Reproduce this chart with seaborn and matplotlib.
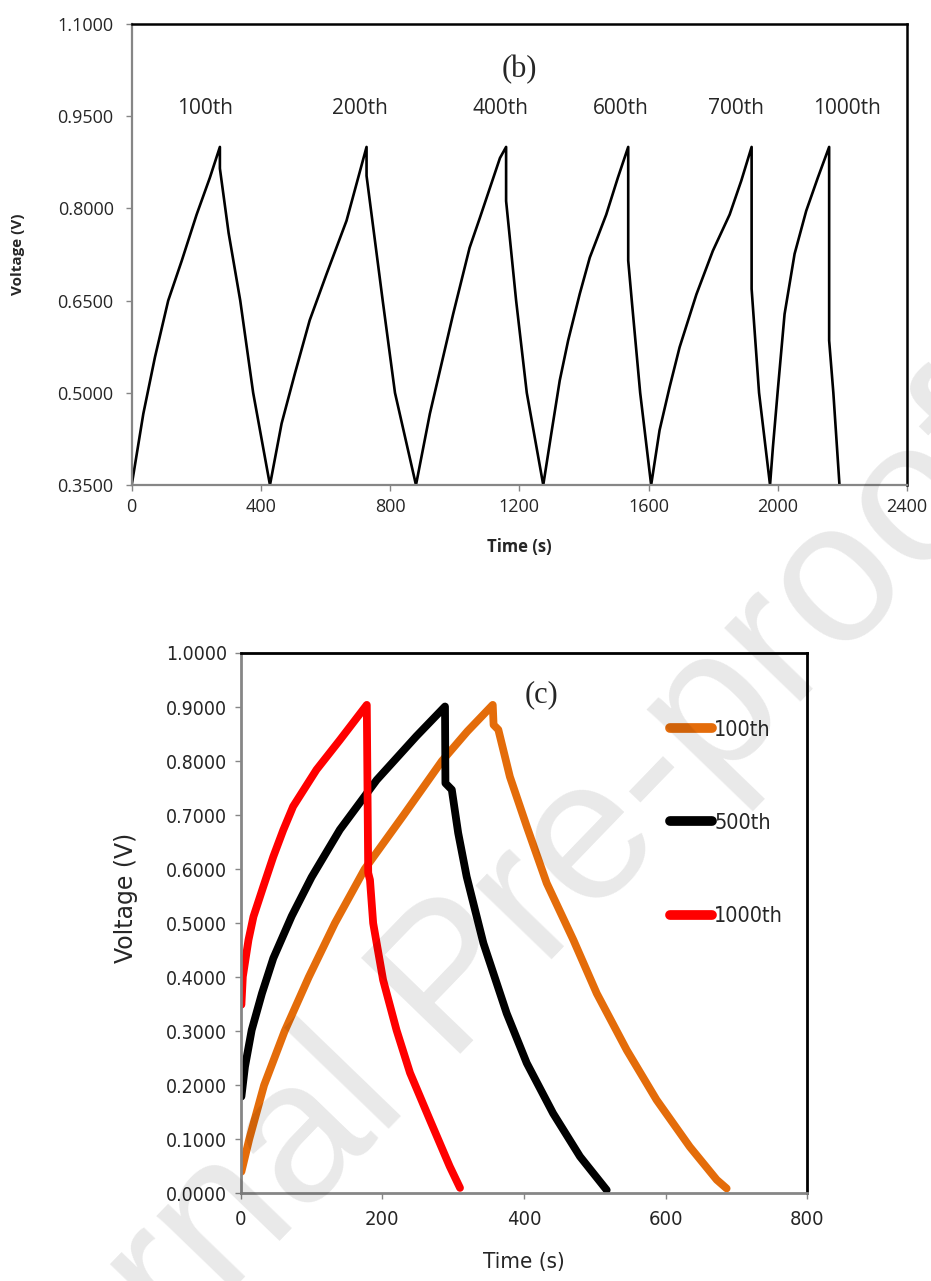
import matplotlib
matplotlib.use("Agg")
import matplotlib.pyplot as plt
from matplotlib.lines import Line2D
from matplotlib.font_manager import FontProperties
import seaborn as sns
import pandas as pd

# ---------------- data: panel (b) ----------------
b_time = [0, 36, 72, 113, 155, 201, 242, 273, 273, 300, 336, 376, 428,
          464, 505, 551, 603, 665, 727, 727, 777, 815, 880,
          923, 995, 1046, 1078, 1140, 1159, 1159, 1190, 1223, 1274,
          1299, 1325, 1351, 1387, 1418, 1469, 1505, 1537, 1537, 1548, 1574, 1608,
          1634, 1665, 1696, 1748, 1799, 1851, 1887, 1919, 1919, 1942, 1976,
          1985, 2000, 2021, 2052, 2088, 2124, 2159, 2159, 2172, 2191]
b_volt = [0.35, 0.466, 0.558, 0.65, 0.715, 0.79, 0.85, 0.90, 0.865, 0.76, 0.65, 0.50, 0.35,
          0.45, 0.531, 0.618, 0.693, 0.78, 0.90, 0.853, 0.65, 0.50, 0.35,
          0.466, 0.628, 0.736, 0.785, 0.882, 0.90, 0.812, 0.65, 0.50, 0.35,
          0.434, 0.52, 0.585, 0.661, 0.72, 0.79, 0.85, 0.90, 0.715, 0.65, 0.50, 0.35,
          0.439, 0.509, 0.574, 0.66, 0.731, 0.79, 0.845, 0.90, 0.669, 0.50, 0.35,
          0.412, 0.504, 0.628, 0.726, 0.796, 0.85, 0.90, 0.585, 0.50, 0.35]
b_cycle_labels = ["100th", "200th", "400th", "600th", "700th", "1000th"]
b_label_time = [227, 705, 1142, 1515, 1871, 2214]
b_xticks = [0, 400, 800, 1200, 1600, 2000, 2400]
b_yticks = [0.35, 0.50, 0.65, 0.80, 0.95, 1.10]

# ---------------- data: panel (c) ----------------
c100_time = [1, 12, 33, 62, 96, 133, 175, 230, 284, 320, 355.8, 357,
             363.7, 380, 403.8, 432, 469.6, 502.6, 545, 587, 634, 672, 686]
c100_volt = [0.04, 0.10, 0.20, 0.30, 0.40, 0.50, 0.60, 0.70, 0.80, 0.855, 0.904, 0.867,
             0.858, 0.771, 0.679, 0.574, 0.469, 0.37, 0.265, 0.173, 0.086, 0.025, 0.009]
c500_time = [1, 6, 15.5, 30, 46, 72, 100, 140, 192, 248, 288.4, 289,
             298, 307, 319, 342.6, 375.5, 403.8, 441, 479, 516.7]
c500_volt = [0.179, 0.234, 0.302, 0.37, 0.435, 0.513, 0.585, 0.673, 0.765, 0.846,
             0.901, 0.759, 0.747, 0.667, 0.586, 0.463, 0.333, 0.241, 0.148, 0.068, 0.006]
c1000_time = [1, 3, 11, 18, 32, 46, 60, 74, 107, 140, 178, 180, 182.5, 187,
              201, 220, 239, 267, 281, 295, 309.6]
c1000_volt = [0.349, 0.401, 0.469, 0.512, 0.568, 0.623, 0.672, 0.716, 0.784, 0.839,
              0.904, 0.593, 0.58, 0.5, 0.395, 0.302, 0.223, 0.136, 0.093, 0.050, 0.01]
c_series = ["100th", "500th", "1000th"]
c_colors = ["#E46C0A", "#000000", "#FF0000"]
c_xticks = [0, 200, 400, 600, 800]
c_yticks = [0.0, 0.1, 0.2, 0.3, 0.4, 0.5, 0.6, 0.7, 0.8, 0.9, 1.0]

sns.set_theme(style="white")
plt.rcParams['font.family'] = ['Open Sans', 'DejaVu Sans']

W, H = 931, 1281
fig = plt.figure(figsize=(W / 100, H / 100), dpi=100)
fig.patch.set_facecolor("white")

GREY = "#868686"

# ---------------- panel (b) ----------------
axb = fig.add_axes([131.7 / W, 1 - 485 / H, (907 - 131.7) / W, (485 - 24) / H])
dfb = pd.DataFrame({"t": b_time, "v": b_volt})
sns.lineplot(data=dfb, x="t", y="v", sort=False, estimator=None,
             color="black", lw=1.9, ax=axb)
axb.set_xlim(0, 2400)
axb.set_ylim(0.35, 1.10)
axb.set_xticks(b_xticks)
axb.set_yticks(b_yticks)
axb.set_xticklabels([str(v) for v in b_xticks], fontsize=13)
axb.set_yticklabels([f"{v:.4f}" for v in b_yticks], fontsize=13)
axb.tick_params(axis="y", direction="out", length=4, width=1, color=GREY,
                pad=9, left=True)
axb.tick_params(axis="x", direction="out", length=4, width=1, color=GREY,
                pad=5, bottom=True)
for s in ["left", "bottom"]:
    axb.spines[s].set_color(GREY)
    axb.spines[s].set_linewidth(1.6)
for s in ["top", "right"]:
    axb.spines[s].set_color("black")
    axb.spines[s].set_linewidth(1.8)
axb.set_xlabel("Time (s)", fontsize=12, fontweight="bold")
axb.set_ylabel("Voltage (V)", fontsize=11, fontweight="bold")
axb.xaxis.set_label_coords(0.5, -0.1345)
axb.xaxis.label.set_va("center")
axb.yaxis.set_label_coords(-0.1467, 0.5)
axb.yaxis.label.set_va("center")
for lab, tx in zip(b_cycle_labels, b_label_time):
    axb.text(tx, 0.962, lab, ha="center", va="center", fontsize=15)
axb.text(1201, 1.026, "(b)", ha="center", va="center", fontsize=22,
         family=["Liberation Serif", "DejaVu Serif"])

# ---------------- panel (c) ----------------
axc = fig.add_axes([240.7 / W, 1 - 1193.3 / H, (807.4 - 240.7) / W, (1193.3 - 653) / H])
dfc = pd.concat([
    pd.DataFrame({"t": c100_time, "v": c100_volt, "cycle": c_series[0]}),
    pd.DataFrame({"t": c500_time, "v": c500_volt, "cycle": c_series[1]}),
    pd.DataFrame({"t": c1000_time, "v": c1000_volt, "cycle": c_series[2]}),
], ignore_index=True)
sns.lineplot(data=dfc, x="t", y="v", hue="cycle", hue_order=c_series,
             palette=dict(zip(c_series, c_colors)), sort=False, estimator=None,
             lw=5.6, solid_capstyle="round", solid_joinstyle="round",
             legend=False, ax=axc)
axc.set_xlim(0, 800)
axc.set_ylim(0, 1.0)
axc.set_xticks(c_xticks)
axc.set_yticks(c_yticks)
narrow = ["DejaVu Sans"]
axc.set_xticklabels([str(v) for v in c_xticks], fontsize=14.5, family=narrow,
                    fontstretch="condensed")
axc.set_yticklabels([f"{v:.4f}" for v in c_yticks], fontsize=14, family=narrow,
                    fontstretch="condensed")
axc.tick_params(axis="y", direction="out", length=4, width=1, color=GREY,
                pad=6, left=True)
axc.tick_params(axis="x", direction="out", length=4, width=1, color=GREY,
                pad=8, bottom=True)
for s in ["left", "bottom"]:
    axc.spines[s].set_color(GREY)
    axc.spines[s].set_linewidth(2.0)
for s in ["top", "right"]:
    axc.spines[s].set_color("black")
    axc.spines[s].set_linewidth(2.0)
axc.set_xlabel("Time (s)", fontsize=16, family=narrow, fontstretch="condensed")
axc.set_ylabel("Voltage (V)", fontsize=17, family=["DejaVu Sans"])
axc.xaxis.set_label_coords(0.5, -0.127)
axc.xaxis.label.set_va("center")
axc.yaxis.set_label_coords(-0.2024, 0.547)
axc.yaxis.label.set_va("center")
axc.text(425, 0.923, "(c)", ha="center", va="center", fontsize=22,
         family=["Liberation Serif", "DejaVu Serif"])

handles = [Line2D([0], [0], color=c, lw=7, solid_capstyle="round") for c in c_colors]
leg = axc.legend(handles, c_series, loc="upper left", bbox_to_anchor=(0.7576, 0.8765),
                 frameon=False, borderpad=0, borderaxespad=0, handlelength=1.95,
                 handletextpad=0.1, labelspacing=3.4,
                 prop=FontProperties(family="DejaVu Sans", stretch="condensed", size=15.5))

# watermark
fig.text(455 / W, 1 - 985 / H, "Journal Pre-proof", rotation=46, fontsize=145,
         color="black", alpha=0.09, ha="center", va="center",
         rotation_mode="anchor", family=["Liberation Sans", "DejaVu Sans"], zorder=10)

fig.savefig("out.png", dpi=100, facecolor="white")
